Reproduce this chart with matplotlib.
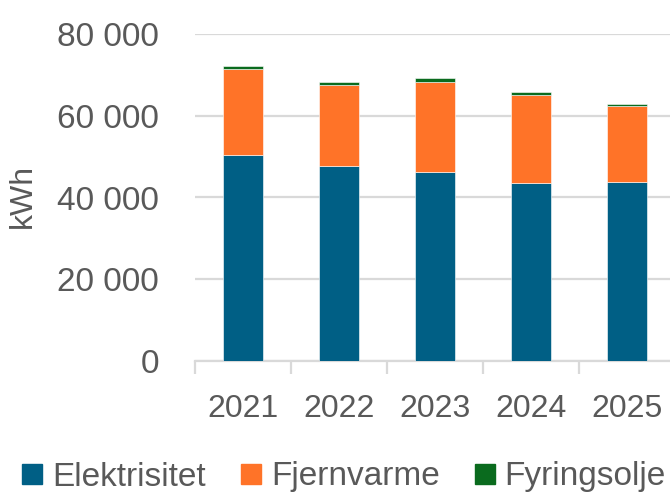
import matplotlib
matplotlib.use("Agg")
import matplotlib.pyplot as plt
import numpy as np
from matplotlib.ticker import FuncFormatter, FixedLocator
from matplotlib.patches import Patch

years = ["2021", "2022", "2023", "2024", "2025"]
elektrisitet = [50400, 47800, 46300, 43500, 43900]
fjernvarme = [21000, 19700, 21900, 21500, 18600]
fyringsolje = [700, 650, 1050, 700, 400]

c_el = "#005F85"
c_fj = "#FF7328"
c_fy = "#0A6B1E"
grey = "#595959"
grid = "#D9D9D9"

plt.rcParams['font.family'] = ['Liberation Sans', 'DejaVu Sans']

fig = plt.figure(figsize=(6.7, 4.93), dpi=100)
ax = fig.add_axes([195/670, 132/493, 480/670, 327/493])

x = np.arange(len(years))
w = 0.41
el = np.array(elektrisitet)
fj = np.array(fjernvarme)
fy = np.array(fyringsolje)
ax.bar(x, el, w, color=c_el, zorder=3, edgecolor="white", linewidth=0.4)
ax.bar(x, fj, w, bottom=el, color=c_fj, zorder=3, edgecolor="white", linewidth=0.4)
ax.bar(x, fy, w, bottom=el + fj, color=c_fy, zorder=3, edgecolor="white", linewidth=0.4)

ax.set_xlim(-0.5, len(years) - 0.5)
ax.set_ylim(0, 80000)
ax.set_yticks([0, 20000, 40000, 60000, 80000])
ax.yaxis.set_major_formatter(FuncFormatter(lambda v, p: f"{int(v):,}".replace(",", " ")))
ax.yaxis.grid(True, color=grid, linewidth=1.6, zorder=0)
ax.tick_params(axis='y', length=0, pad=26, labelsize=24, labelcolor=grey)

ax.xaxis.set_major_locator(FixedLocator(np.arange(len(years) + 1) - 0.5))
ax.xaxis.set_minor_locator(FixedLocator(x))
ax.set_xticklabels([], minor=False)
ax.set_xticklabels(years, minor=True)
ax.tick_params(axis='x', which='major', length=9, width=1.6, color=grid)
ax.tick_params(axis='x', which='minor', length=0, pad=24, labelsize=23, labelcolor=grey)

for s in ["top", "right", "left"]:
    ax.spines[s].set_visible(False)
ax.spines["bottom"].set_color(grid)
ax.spines["bottom"].set_linewidth(1.6)

fig.text(22.5/670, 1 - 196/493, "kWh", rotation=90, ha="center", va="center",
         fontsize=23, color=grey)

handles = [Patch(color=c_el, label="Elektrisitet"),
           Patch(color=c_fj, label="Fjernvarme"),
           Patch(color=c_fy, label="Fyringsolje")]
fig.legend(handles=handles, loc="center", bbox_to_anchor=(344/670, 1 - 477/493),
           ncol=3, frameon=False, fontsize=24, labelcolor=grey,
           handlelength=0.6, handleheight=0.55, handletextpad=0.3, columnspacing=1.05,
           borderpad=0, borderaxespad=0)

fig.savefig("out.png", dpi=100)
